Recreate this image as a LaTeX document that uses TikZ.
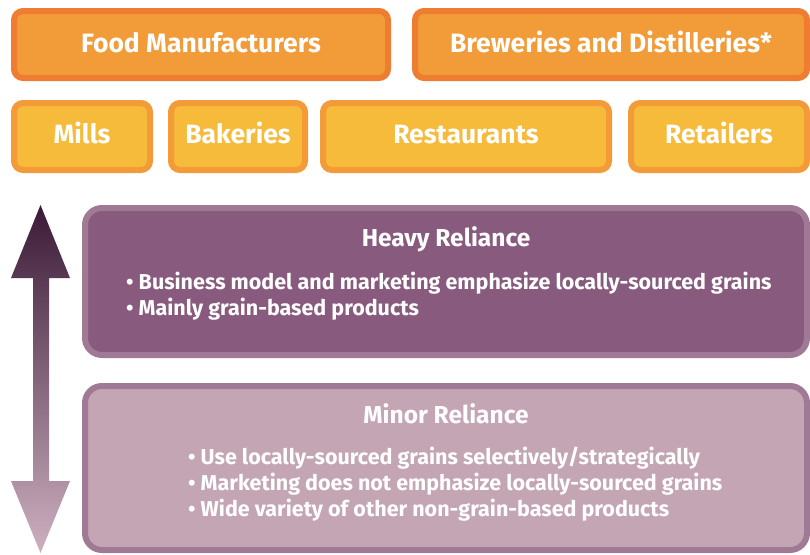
\documentclass[tikz,border=0pt]{standalone}
\usepackage{fontspec}
\setmainfont{Fira Sans}
\usetikzlibrary{positioning}

\definecolor{orangeline}{HTML}{EE7D31}
\definecolor{orangefill}{HTML}{F19C38}
\definecolor{yellowline}{HTML}{F29B38}
\definecolor{yellowfill}{HTML}{F6BB3A}
\definecolor{plumline}{HTML}{A07A95}
\definecolor{plumfill}{HTML}{875A7E}
\definecolor{palefill}{HTML}{C4A5B3}
\definecolor{arrowtop}{HTML}{3A1A36}
\definecolor{arrowmid}{HTML}{875A7E}
\definecolor{arrowbottom}{HTML}{CDB0C0}

\begin{document}
\begin{tikzpicture}[x=1pt, y=-1pt,
			sectorbox/.style={draw=orangeline, fill=orangefill, line width=6pt, rounded corners=9pt, minimum height=67pt, inner sep=0pt, text height=16.5pt, text depth=0pt, text=white, font=\bfseries\fontsize{26.5}{30}\selectfont},
			userbox/.style={sectorbox, draw=yellowline, fill=yellowfill, text height=14pt},
			reliancebox/.style={draw=plumline, fill=plumfill, line width=6pt, rounded corners=17pt, minimum width=722pt, inner sep=0pt},
			titletext/.style={anchor=base, text=white, font=\bfseries\fontsize{24.5}{28}\selectfont},
			listtext/.style={anchor=north west, align=left, inner sep=0pt, text=white, font=\bfseries\fontsize{21.5}{26}\selectfont},
		]
		
			\useasboundingbox (0,0) rectangle (810,554);
		
			%Top row
			\node[sectorbox, minimum width=374pt]	(food)		at (201,44.5)		{Food Manufacturers};
			\node[sectorbox, minimum width=392pt]	(brew)		[right=21pt of food]	{Breweries and Distilleries*};
		
			%Second row
			\node[userbox, minimum width=136pt]	(mills)		at (82,136.5)		{Mills};
			\node[userbox, minimum width=134pt]	(bakeries)	[right=15pt of mills]	{Bakeries};
			\node[userbox, minimum width=286pt]	(restaurants)	[right=12pt of bakeries]	{Restaurants};
			\node[userbox, minimum width=176pt]	(retailers)	[right=16pt of restaurants]	{Retailers};
		
			%Reliance boxes
			\node[reliancebox, minimum height=147pt]		(heavy)	at (446,281.5)	{};
			\node[reliancebox, fill=palefill, minimum height=164pt]	(minor)	at (446,468)	{};
		
			\node[titletext]	(heavytitle)	at (446,246)	{Heavy Reliance};
			\node[listtext]	(heavylist)	at (126,272)	{• Business model and marketing emphasize locally-sourced grains\\
				• Mainly grain-based products};
		
			\node[titletext]	(minortitle)	at (446,423)	{Minor Reliance};
			\node[listtext]	(minorlist)	at (188,447)	{• Use locally-sourced grains selectively/strategically\\
				• Marketing does not emphasize locally-sourced grains\\
				• Wide variety of other non-grain-based products};
		
			%Arrow
			\shade[top color=arrowtop, middle color=arrowmid, bottom color=arrowbottom]
				(40.5,205) -- (70,278) -- (49,278) -- (49,481) -- (70,481) -- (40.5,553)
				-- (11,481) -- (33,481) -- (33,278) -- (11,278) -- cycle;
		
		\end{tikzpicture}
\end{document}
